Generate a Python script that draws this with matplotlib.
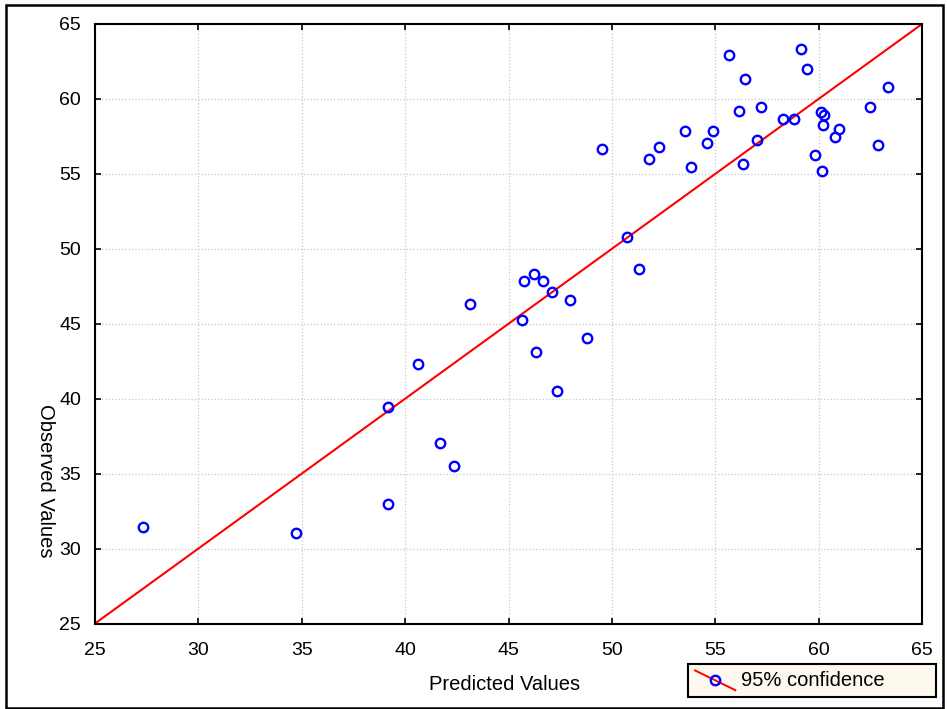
import numpy as np
import matplotlib
matplotlib.use("Agg")
import matplotlib.pyplot as plt
from matplotlib.lines import Line2D
from matplotlib.patches import Rectangle
from matplotlib.legend_handler import HandlerBase

plt.rcParams['font.family'] = ['Liberation Sans', 'DejaVu Sans']

# predicted / observed pairs
predicted = [27.34, 34.71, 39.17, 39.17, 41.70, 42.38, 40.64, 43.15,
             45.77, 46.25, 46.65, 47.12, 47.99, 45.67, 46.35, 48.78,
             47.33, 51.31, 50.73, 49.54, 51.78, 52.26, 53.54, 53.84,
             54.59, 54.89, 55.66, 56.17, 56.44, 56.34, 57.04, 57.21,
             58.28, 58.79, 59.16, 59.45, 59.84, 60.11, 60.24, 60.23,
             60.16, 60.81, 61.00, 62.48, 62.86, 63.34]
observed = [31.42, 31.06, 39.46, 32.95, 37.06, 35.49, 42.29, 46.29,
            47.87, 48.30, 47.87, 47.10, 46.56, 45.23, 43.09, 44.03,
            40.53, 48.67, 50.82, 56.67, 56.01, 56.81, 57.88, 55.47,
            57.05, 57.88, 62.93, 59.21, 61.32, 55.63, 57.23, 59.48,
            58.68, 58.66, 63.33, 62.01, 56.28, 59.10, 58.94, 58.28,
            55.21, 57.48, 58.01, 59.48, 56.92, 60.79]
line_x = [25, 65]
line_y = [25, 65]
ticks = [25, 30, 35, 40, 45, 50, 55, 60, 65]


class DiagHandler(HandlerBase):
    # red line drawn corner to corner with the open circle on top
    def create_artists(self, legend, orig_handle, xdescent, ydescent,
                       width, height, fontsize, trans):
        x0, x1 = -xdescent, -xdescent + width
        y0, y1 = -ydescent + height * 1.1, -ydescent - height * 0.3
        ln = Line2D([x0, x1], [y0, y1], color='red', lw=1.4, transform=trans)
        mk = Line2D([(x0 + x1) / 2], [(y0 + y1) / 2], marker='o', ls='none',
                    mfc='none', mec='blue', mew=1.7, ms=6.8, transform=trans)
        return [ln, mk]


fig = plt.figure(figsize=(9.47, 7.09), dpi=100)
ax = fig.add_axes([95 / 947, 1 - 623.5 / 709, 827 / 947, 599.5 / 709])

ax.plot(line_x, line_y, color='red', lw=1.5, zorder=2)
pts, = ax.plot(predicted, observed, ls='none', marker='o', mfc='none',
               mec='blue', mew=1.7, ms=6.8, zorder=3)

ax.set_xlim(25, 65)
ax.set_ylim(25, 65)
ax.set_xticks(ticks)
ax.set_yticks(ticks)
ax.grid(True, color='#c8c8c8', ls=':', lw=0.9)
ax.tick_params(direction='in', length=4, width=1.2, labelsize=14,
               top=True, right=True, colors='black')
ax.tick_params(axis='x', pad=13)
ax.tick_params(axis='y', pad=10)
for s in ax.spines.values():
    s.set_linewidth(1.5)

ax.set_xlabel('Predicted Values', fontsize=14.5)
ax.set_ylabel('Observed Values', fontsize=14.5, rotation=270, va='center')
ax.yaxis.set_label_coords(-0.06, (623.5 - 481) / 599.5)
ax.xaxis.set_label_coords((505 - 95) / 827, -(685 - 623.5) / 599.5)
ax.xaxis.label.set_va('center')

handle = Line2D([], [], color='red')
leg = fig.legend([handle], ['95% confidence'], loc='lower left',
                 bbox_to_anchor=(688 / 947, 1 - 697 / 709, 248 / 947, 35 / 709),
                 mode='expand', fancybox=False, framealpha=1, fontsize=14.5,
                 handler_map={Line2D: DiagHandler()}, handlelength=2.0,
                 borderpad=0.35, handletextpad=0.3, borderaxespad=0)
leg.get_frame().set_facecolor('#fdf9ee')
leg.get_frame().set_edgecolor('black')
leg.get_frame().set_linewidth(1.5)

# outer border around the whole figure
fig.patches.append(Rectangle((6 / 947, 1 / 709), 937 / 947, 703 / 709,
                             transform=fig.transFigure, fill=False,
                             edgecolor='black', lw=1.8))

fig.savefig('out.png', dpi=100)
